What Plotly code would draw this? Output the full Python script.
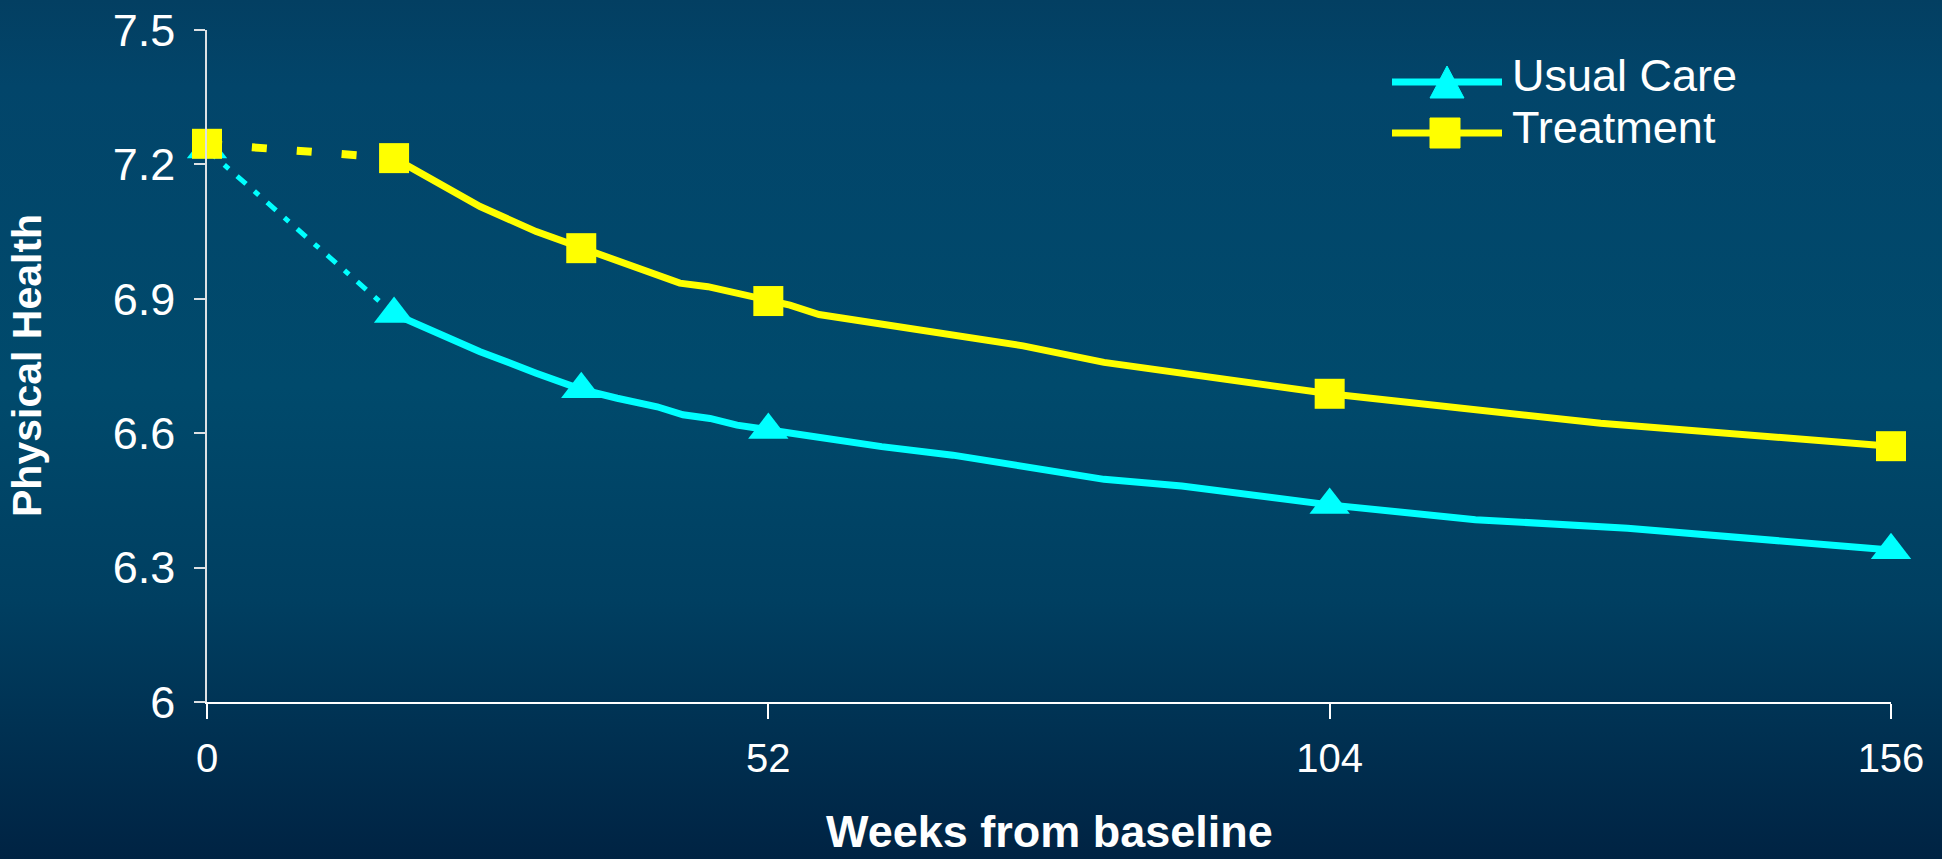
import plotly.graph_objects as go

# Mean scores at each assessment (4, 8, 12, 24 and 36 months, in weeks)
weeks = [0, 17.33, 34.67, 52, 104, 156]
usual_care = [7.233, 6.866, 6.698, 6.607, 6.440, 6.339]
treatment = [7.246, 7.214, 7.013, 6.895, 6.688, 6.571]

# Fitted trajectories from the first follow-up onward
usual_curve_weeks = [17.33, 25.3, 30.5, 34.67, 38.0, 41.7, 44.1, 46.6, 49.1, 52,
                     56.7, 62.5, 69.1, 83.1, 90.3, 97.2, 104, 117.5, 131.6, 156]
usual_curve = [6.866, 6.782, 6.734, 6.698, 6.678, 6.659, 6.641, 6.633, 6.618, 6.607,
               6.593, 6.570, 6.551, 6.497, 6.482, 6.459, 6.440, 6.407, 6.388, 6.339]

treat_curve_weeks = [17.33, 25.3, 30.5, 34.67, 43.8, 46.4, 52, 54.0, 56.7, 75.6,
                     83.1, 104, 129.1, 156]
treat_curve = [7.214, 7.106, 7.050, 7.013, 6.935, 6.927, 6.895, 6.886, 6.865, 6.795,
               6.758, 6.688, 6.622, 6.571]

x_ticks = [0, 52, 104, 156]
y_ticks = [6, 6.3, 6.6, 6.9, 7.2, 7.5]
y_tick_labels = ["6", "6.3", "6.6", "6.9", "7.2", "7.5"]

series_names = ["Usual Care", "Treatment"]

CYAN = "#00FFFF"
YELLOW = "#FFFF00"
FONT = "Liberation Sans, Arial, sans-serif"

W, H = 1942, 859
L, R, T, B = 207, 51, 30, 157
PW, PH = W - L - R, H - T - B


def px(x):
    return (x - L) / PW


def py(y):
    return (H - B - y) / PH


fig = go.Figure()

# Usual care: baseline-to-first-visit link, fitted curve, observed means
fig.add_trace(go.Scatter(x=weeks[:2], y=usual_care[:2], mode="lines",
                         line=dict(color=CYAN, width=5, dash="12px,11px,6px,11px"),
                         cliponaxis=False, showlegend=False, hoverinfo="skip"))
fig.add_trace(go.Scatter(x=usual_curve_weeks, y=usual_curve, mode="lines",
                         line=dict(color=CYAN, width=7),
                         cliponaxis=False, showlegend=False))
fig.add_trace(go.Scatter(x=weeks, y=usual_care, mode="markers", name=series_names[0],
                         marker=dict(symbol="triangle-up", size=35, color=CYAN),
                         cliponaxis=False, showlegend=False))

# Treatment
fig.add_trace(go.Scatter(x=weeks[:2], y=treatment[:2], mode="lines",
                         line=dict(color=YELLOW, width=8, dash="15px,30px"),
                         cliponaxis=False, showlegend=False, hoverinfo="skip"))
fig.add_trace(go.Scatter(x=treat_curve_weeks, y=treat_curve, mode="lines",
                         line=dict(color=YELLOW, width=7),
                         cliponaxis=False, showlegend=False))
fig.add_trace(go.Scatter(x=weeks, y=treatment, mode="markers", name=series_names[1],
                         marker=dict(symbol="square", size=30, color=YELLOW),
                         cliponaxis=False, showlegend=False))

# Legend drawn as long line keys with markers
shapes = []
annotations = []
legend_rows = [(series_names[0], CYAN, 82), (series_names[1], YELLOW, 133)]
for name, color, yc in legend_rows:
    shapes.append(dict(type="line", xref="paper", yref="paper",
                       x0=px(1392), x1=px(1502), y0=py(yc), y1=py(yc),
                       line=dict(color=color, width=7)))
    annotations.append(dict(text=name, xref="paper", yref="paper",
                            x=px(1510), y=py(yc - 6), xanchor="left", yanchor="middle",
                            showarrow=False, font=dict(family=FONT, size=45, color="white")))
# triangle key
shapes.append(dict(type="path", xref="paper", yref="paper",
                   path=f"M {px(1430)},{py(98)} L {px(1464)},{py(98)} L {px(1447)},{py(66)} Z",
                   fillcolor=CYAN, line=dict(color=CYAN, width=1)))
# square key
shapes.append(dict(type="rect", xref="paper", yref="paper",
                   x0=px(1430), x1=px(1460), y0=py(148), y1=py(118),
                   fillcolor=YELLOW, line=dict(color=YELLOW, width=1)))

annotations.append(dict(text="<b>Physical Health</b>", xref="paper", yref="paper",
                        x=px(27), y=0.5, textangle=-90, showarrow=False,
                        xanchor="center", yanchor="middle",
                        font=dict(family=FONT, size=41, color="white")))
annotations.append(dict(text="<b>Weeks from baseline</b>", xref="paper", yref="paper",
                        x=0.5, y=py(H), showarrow=False,
                        xanchor="center", yanchor="bottom",
                        font=dict(family=FONT, size=45, color="white")))

fig.update_layout(
    width=W, height=H,
    margin=dict(l=L, r=R, t=T, b=B, pad=0, autoexpand=False),
    paper_bgcolor="rgba(0,0,0,0)",
    plot_bgcolor="rgba(0,0,0,0)",
    showlegend=False,
    shapes=shapes,
    annotations=annotations,
    font=dict(family=FONT, color="white"),
    xaxis=dict(range=[0, 156], tickvals=x_ticks, ticktext=[str(v) for v in x_ticks],
               automargin=False,
               showgrid=False, zeroline=False, showline=True, linecolor="white", linewidth=2,
               ticks="outside", ticklen=15, tickwidth=1.5, tickcolor="white",
               ticklabelstandoff=5,
               tickfont=dict(family=FONT, size=40, color="white")),
    yaxis=dict(range=[6, 7.5], tickvals=y_ticks, ticktext=y_tick_labels,
               automargin=False,
               showgrid=False, zeroline=False, showline=True, linecolor="#dde1e4", linewidth=1.5,
               ticks="outside", ticklen=11, tickwidth=1.5, tickcolor="#dde1e4",
               ticklabelstandoff=10,
               tickfont=dict(family=FONT, size=45, color="white")),
)

post_script = (
    "document.body.style.margin='0';"
    "var gd=document.getElementById('{plot_id}');"
    "gd.style.background='linear-gradient(to bottom, #033f62 0%, #02456a 10%, "
    "#004a6c 45%, #003f61 70%, #002343 100%)';"
)

fig.write_html("out.html", post_script=post_script)
